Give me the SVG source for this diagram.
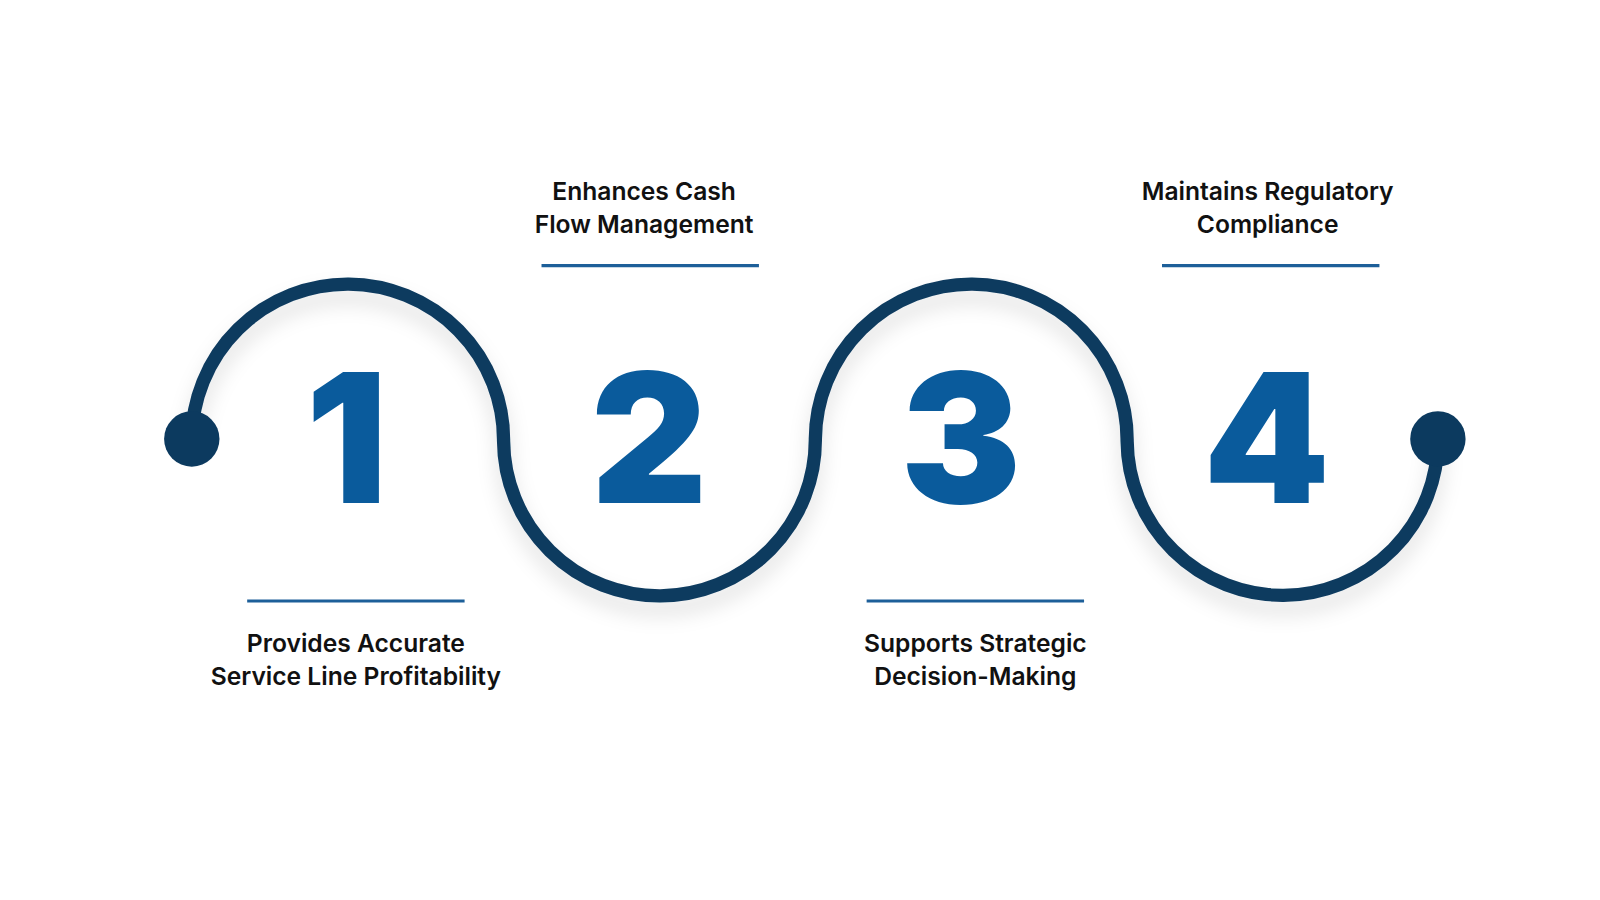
<svg xmlns="http://www.w3.org/2000/svg" width="1600" height="900" viewBox="0 0 1600 900">
<defs>
<filter id="sh" x="-20%" y="-20%" width="140%" height="140%"><feDropShadow dx="0" dy="12" stdDeviation="10" flood-color="#000" flood-opacity="0.12"/></filter>
<style>
.num{font-family:Inter,"Liberation Sans",sans-serif;font-weight:900;font-size:176px;fill:#0a5b9c;text-anchor:middle}
.lbl{font-family:Inter,"Liberation Sans",sans-serif;font-weight:600;font-size:24px;fill:#111;text-anchor:middle}
.rule{stroke:#1d5f99;stroke-width:3}
.wave{fill:none;stroke:#0c3a5f;stroke-width:13}
</style>
</defs>
<rect width="1600" height="900" fill="#fff"/>
<g transform="scale(1.0256)">
<g id="connectors">
<path class="wave" filter="url(#sh)" d="M187 428 A152 152 0 0 1 491 430 A151 151 0 0 0 795 428 A152 152 0 0 1 1099 430 A151 151 0 0 0 1402 428"/>
<circle cx="187" cy="428" r="27" fill="#0c3a5f"/>
<circle cx="1402" cy="428" r="27" fill="#0c3a5f"/>
</g>
<g id="n1"><text class="num" x="338" y="490">1</text><line class="rule" x1="241" y1="586" x2="453" y2="586"/><text class="lbl" x="347" y="636">Provides Accurate</text><text class="lbl" x="347" y="668">Service Line Profitability</text></g>
<g id="n2"><text class="num" x="633" y="490">2</text><line class="rule" x1="528" y1="259" x2="740" y2="259"/><text class="lbl" x="628" y="195">Enhances Cash</text><text class="lbl" x="628" y="227">Flow Management</text></g>
<g id="n3"><text class="num" x="937" y="490">3</text><line class="rule" x1="845" y1="586" x2="1057" y2="586"/><text class="lbl" x="951" y="636">Supports Strategic</text><text class="lbl" x="951" y="668">Decision-Making</text></g>
<g id="n4"><text class="num" x="1235" y="490">4</text><line class="rule" x1="1133" y1="259" x2="1345" y2="259"/><text class="lbl" x="1236" y="195">Maintains Regulatory</text><text class="lbl" x="1236" y="227">Compliance</text></g>
</g>
</svg>
